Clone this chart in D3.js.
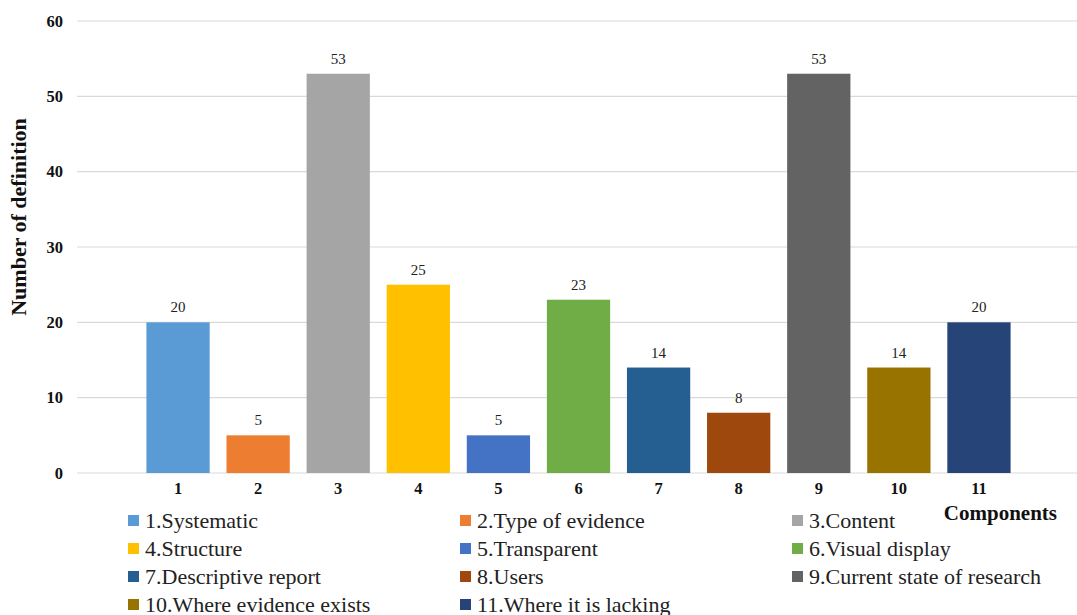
<!DOCTYPE html>
<html>
<head>
<meta charset="utf-8">
<script src="https://cdn.jsdelivr.net/npm/d3@7"></script>
<style>
  body { margin: 0; background: #fff; }
  text { font-family: "Liberation Serif", "Times New Roman", serif; }
</style>
</head>
<body>
<div class="container"></div>
<script>
// chart data
const categories = ['1', '2', '3', '4', '5', '6', '7', '8', '9', '10', '11'];
const values = [20, 5, 53, 25, 5, 23, 14, 8, 53, 14, 20];
const legendLabels = ['1.Systematic', '2.Type of evidence', '3.Content', '4.Structure', '5.Transparent',
  '6.Visual display', '7.Descriptive report', '8.Users', '9.Current state of research',
  '10.Where evidence exists', '11.Where it is lacking'];
const colors = ['#5B9BD5', '#ED7D31', '#A5A5A5', '#FFC000', '#4472C4', '#70AD47',
  '#255E91', '#9E480E', '#636363', '#997300', '#264478'];
const yTicks = [0, 10, 20, 30, 40, 50, 60];

// dimensions
const w = 1077;
const h = 615;

const svg = d3.select('.container').append('svg')
  .attr('width', w)
  .attr('height', h);

// scales
const xScale = d3.scaleBand()
  .domain(categories)
  .range([138, 1019])
  .paddingInner(0.21)
  .paddingOuter(0.105);
const yScale = d3.scaleLinear()
  .domain([0, 60])
  .range([473, 21]);

// gridlines
svg.append('g')
  .selectAll('line').data(yTicks).enter().append('line')
  .attr('x1', 77)
  .attr('x2', w)
  .attr('y1', d => yScale(d))
  .attr('y2', d => yScale(d))
  .attr('stroke', '#d9d9d9')
  .attr('stroke-width', 1.2);

// y axis
const yAxis = d3.axisLeft(yScale).tickValues(yTicks).tickSize(0).tickPadding(0);
svg.append('g')
  .attr('transform', 'translate(63, 0)')
  .call(yAxis)
  .call(g => g.select('.domain').remove())
  .selectAll('text')
  .attr('font-size', 16.5)
  .attr('font-weight', 'bold')
  .attr('fill', '#111');

// x axis
const xAxis = d3.axisBottom(xScale).tickSize(0).tickPadding(0);
svg.append('g')
  .attr('transform', 'translate(0, 482)')
  .call(xAxis)
  .call(g => g.select('.domain').remove())
  .selectAll('text')
  .attr('font-size', 16.5)
  .attr('font-weight', 'bold')
  .attr('fill', '#111');

// bars
svg.selectAll('rect.bar').data(values).enter().append('rect')
  .attr('class', 'bar')
  .attr('x', (d, i) => xScale(categories[i]))
  .attr('y', d => yScale(d))
  .attr('width', xScale.bandwidth())
  .attr('height', d => yScale(0) - yScale(d))
  .attr('fill', (d, i) => colors[i]);

// value labels
svg.selectAll('text.val').data(values).enter().append('text')
  .attr('class', 'val')
  .attr('x', (d, i) => xScale(categories[i]) + xScale.bandwidth() / 2)
  .attr('y', d => yScale(d) - 10)
  .attr('text-anchor', 'middle')
  .attr('font-size', 15)
  .attr('fill', '#222')
  .text(d => d);

// axis titles
svg.append('text')
  .attr('transform', 'translate(26, 217) rotate(-90)')
  .attr('text-anchor', 'middle')
  .attr('font-size', 22)
  .attr('font-weight', 'bold')
  .attr('fill', '#111')
  .text('Number of definition');
svg.append('text')
  .attr('x', 1057)
  .attr('y', 520)
  .attr('text-anchor', 'end')
  .attr('font-size', 21)
  .attr('font-weight', 'bold')
  .attr('fill', '#111')
  .text('Components');

// legend
const colX = [128, 460, 792];
const legend = svg.append('g');
const item = legend.selectAll('g').data(legendLabels).enter().append('g')
  .attr('transform', (d, i) => 'translate(' + colX[i % 3] + ',' + (520 + Math.floor(i / 3) * 28) + ')');
item.append('rect')
  .attr('x', 0)
  .attr('y', -5)
  .attr('width', 11)
  .attr('height', 11)
  .attr('fill', (d, i) => colors[i]);
item.append('text')
  .attr('x', 17)
  .attr('y', 7.5)
  .attr('font-size', 22)
  .attr('fill', '#222')
  .text(d => d);
</script>
</body>
</html>
